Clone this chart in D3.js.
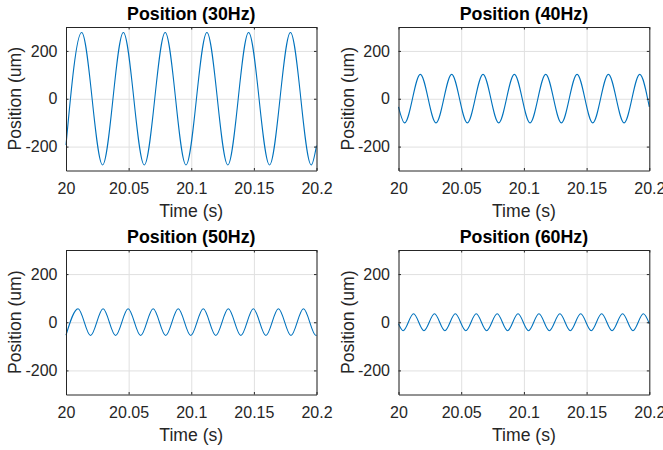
<!DOCTYPE html>
<html><head><meta charset="utf-8">
<script src="https://cdn.jsdelivr.net/npm/d3@7"></script>
<style>
html,body{margin:0;padding:0;background:#fff;}
svg{display:block;font-family:"Liberation Sans",Arial,Helvetica,sans-serif;}
</style></head>
<body><svg id="chart" width="663" height="450"></svg>
<script>
// ---- data ----
const panelTitles = ["Position (30Hz)", "Position (40Hz)", "Position (50Hz)", "Position (60Hz)"];
const xLabel = "Time (s)";
const yLabel = "Position (um)";
const timeTicks = [20, 20.05, 20.1, 20.15, 20.2];
const timeTickLabels = ["20", "20.05", "20.1", "20.15", "20.2"];
const posTicks = [-200, 0, 200];
const posTickLabels = ["-200", "0", "200"];
const timeDomain = [20, 20.2];
const posDomain = [-300, 300];

// sampled points (start, each peak/trough, end)
const pos30Time = [20, 20.0125, 20.0292, 20.0458, 20.0625, 20.0792, 20.0958, 20.1125, 20.1292, 20.1458, 20.1625, 20.1792, 20.1958, 20.2];
const pos30Value = [-194, 277, -277, 277, -277, 277, -277, 277, -277, 277, -277, 277, -277, -196];

const pos40Time = [20, 20.0049, 20.0174, 20.0299, 20.0424, 20.0549, 20.0674, 20.0799, 20.0924, 20.1049, 20.1174, 20.1299, 20.1424, 20.1549, 20.1674, 20.1799, 20.1924, 20.2];
const pos40Value = [-34, -101, 102, -101, 102, -101, 102, -101, 102, -101, 102, -101, 102, -101, 102, -101, 102, -34];

const pos50Time = [20, 20.0096, 20.0196, 20.0296, 20.0396, 20.0496, 20.0596, 20.0696, 20.0796, 20.0896, 20.0996, 20.1096, 20.1196, 20.1296, 20.1396, 20.1496, 20.1596, 20.1696, 20.1796, 20.1896, 20.1996, 20.2];
const pos50Value = [-54, 56, -55, 56, -55, 56, -55, 56, -55, 56, -55, 56, -55, 56, -55, 56, -55, 56, -55, 56, -55, -54];

const pos60Time = [20, 20.0037, 20.0120, 20.0203, 20.0287, 20.0370, 20.0453, 20.0537, 20.0620, 20.0703, 20.0787, 20.0870, 20.0953, 20.1037, 20.1120, 20.1203, 20.1287, 20.1370, 20.1453, 20.1537, 20.1620, 20.1703, 20.1787, 20.1870, 20.1953, 20.2];
const pos60Value = [-6, -35, 35, -35, 35, -35, 35, -35, 35, -35, 35, -35, 35, -35, 35, -35, 35, -35, 35, -35, 35, -35, 35, -35, 35, -6];

const seriesTimes = [pos30Time, pos40Time, pos50Time, pos60Time];
const seriesValues = [pos30Value, pos40Value, pos50Value, pos60Value];

// ---- layout ----
const panels = [
  {x: 66, y: 27, w: 250.5, h: 143.5},
  {x: 398.5, y: 27, w: 250.8, h: 143.5},
  {x: 66, y: 250, w: 250.5, h: 144.5},
  {x: 398.5, y: 250, w: 250.8, h: 144.5}
];
const axisColor = "#262626";
const gridColor = "#e0e0e0";
const lineColor = "#0072BD";
const fontFam = '"Liberation Sans",Arial,Helvetica,sans-serif';

const svg = d3.select("#chart");

panels.forEach((p, i) => {
  const g = svg.append("g").attr("transform", `translate(${p.x},${p.y})`);
  const x = d3.scaleLinear().domain(timeDomain).range([0, p.w]);
  const y = d3.scaleLinear().domain(posDomain).range([p.h, 0]);

  // grid
  g.append("g").attr("class", "grid-x")
    .call(d3.axisBottom(x).tickValues(timeTicks).tickSize(p.h).tickFormat(""))
    .call(s => s.select(".domain").remove())
    .call(s => s.selectAll("line").attr("stroke", gridColor).attr("stroke-width", 1));
  g.append("g").attr("class", "grid-y")
    .call(d3.axisRight(y).tickValues(posTicks).tickSize(p.w).tickFormat(""))
    .call(s => s.select(".domain").remove())
    .call(s => s.selectAll("line").attr("stroke", gridColor).attr("stroke-width", 1));

  // data line
  const pts = seriesTimes[i].map((t, k) => [t, seriesValues[i][k]]);
  g.append("path")
    .datum(pts)
    .attr("fill", "none")
    .attr("stroke", lineColor)
    .attr("stroke-width", 1.1)
    .attr("d", d3.line().x(d => x(d[0])).y(d => y(d[1])).curve(d3.curveMonotoneX));

  // axes with inward ticks
  const tl = 2.5;
  const fmtX = (d, k) => timeTickLabels[k];
  const fmtY = (d, k) => posTickLabels[k];
  const bottom = g.append("g").attr("transform", `translate(0,${p.h})`)
    .call(d3.axisBottom(x).tickValues(timeTicks).tickSizeInner(-tl).tickSizeOuter(0).tickPadding(12).tickFormat(fmtX));
  const top = g.append("g")
    .call(d3.axisTop(x).tickValues(timeTicks).tickSizeInner(-tl).tickSizeOuter(0).tickFormat(""));
  const left = g.append("g")
    .call(d3.axisLeft(y).tickValues(posTicks).tickSizeInner(-tl).tickSizeOuter(0).tickPadding(8.5).tickFormat(fmtY));
  const right = g.append("g").attr("transform", `translate(${p.w},0)`)
    .call(d3.axisRight(y).tickValues(posTicks).tickSizeInner(-tl).tickSizeOuter(0).tickFormat(""));
  [bottom, top, left, right].forEach(a => {
    a.select(".domain").attr("stroke", axisColor).attr("stroke-width", 1);
    a.selectAll(".tick line").attr("stroke", axisColor).attr("stroke-width", 1);
    a.selectAll("text").attr("fill", axisColor).style("font-size", "16px").style("font-family", fontFam);
  });
  bottom.selectAll("text").attr("dy", "0.71em");

  // title
  g.append("text")
    .attr("x", p.w / 2).attr("y", -7)
    .attr("text-anchor", "middle")
    .attr("font-weight", "bold").attr("font-size", "17.8px").attr("fill", "#000")
    .text(panelTitles[i]);
  // x label
  g.append("text")
    .attr("x", p.w / 2).attr("y", p.h + 46)
    .attr("text-anchor", "middle")
    .attr("font-size", "17.6px").attr("fill", axisColor)
    .text(xLabel);
  // y label
  g.append("text")
    .attr("transform", `translate(${-45},${p.h / 2}) rotate(-90)`)
    .attr("text-anchor", "middle")
    .attr("font-size", "17.6px").attr("fill", axisColor)
    .text(yLabel);
});
</script></body></html>
